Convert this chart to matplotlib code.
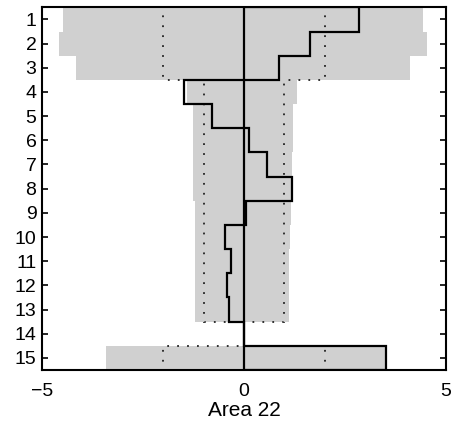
import numpy as np
import matplotlib
matplotlib.use("Agg")
import matplotlib.pyplot as plt

rows = list(range(1, 16))
values = [2.85, 1.63, 0.86, -1.49, -0.78, 0.13, 0.56, 1.18, 0.05, -0.47, -0.32, -0.41, -0.36, 0.0, 3.51]
band_lo = [-4.49, -4.57, -4.16, -1.42, -1.27, -1.26, -1.26, -1.25, -1.22, -1.2, -1.2, -1.2, -1.2, 0.0, -3.42]
band_hi = [4.44, 4.54, 4.11, 1.32, 1.22, 1.21, 1.2, 1.2, 1.17, 1.13, 1.12, 1.12, 1.12, 0.0, 3.49]
threshold = [2, 2, 2, 1, 1, 1, 1, 1, 1, 1, 1, 1, 1, 0, 2]
xticks = [-5, 0, 5]
xlabel = "Area 22"

plt.rcParams['font.family'] = ['Liberation Sans', 'DejaVu Sans']

fig = plt.figure(figsize=(4.55, 4.32), dpi=100)
ax = fig.add_axes([0.0923, 0.1435, 0.8877, 0.8395])

rows_a = np.array(rows)
lo = np.array(band_lo)
hi = np.array(band_hi)
ax.barh(rows_a, hi - lo, left=lo, height=1.0, color='#d0d0d0', edgecolor='none', zorder=1)

edges = np.arange(0.5, 16.0, 1.0)
thr = np.array(threshold, dtype=float)
dot = (0, (1, 4.5))
ax.stairs(thr, edges, orientation='horizontal', baseline=0, color='#222222', lw=1.3, linestyle=dot, zorder=2)
ax.stairs(-thr, edges, orientation='horizontal', baseline=0, color='#222222', lw=1.3, linestyle=dot, zorder=2)

ax.axvline(0, color='black', lw=1.6, zorder=3)
ax.stairs(np.array(values), edges, orientation='horizontal', baseline=0, color='black', lw=1.6, zorder=4)

ax.set_xlim(-5, 5)
ax.set_ylim(15.5, 0.5)
ax.set_yticks(rows)
ax.set_yticklabels([str(r) for r in rows])
ax.set_xticks(xticks)
ax.set_xticklabels(['\u22125', '0', '5'])
ax.tick_params(axis='both', direction='in', labelsize=14, length=4, width=1.2,
               left=True, right=True, top=True, bottom=True)
ax.tick_params(axis='x', pad=9)
ax.tick_params(axis='y', pad=4)
for s in ax.spines.values():
    s.set_linewidth(1.5)
ax.set_xlabel(xlabel, fontsize=15, labelpad=1)

fig.savefig("out.png", dpi=100)
